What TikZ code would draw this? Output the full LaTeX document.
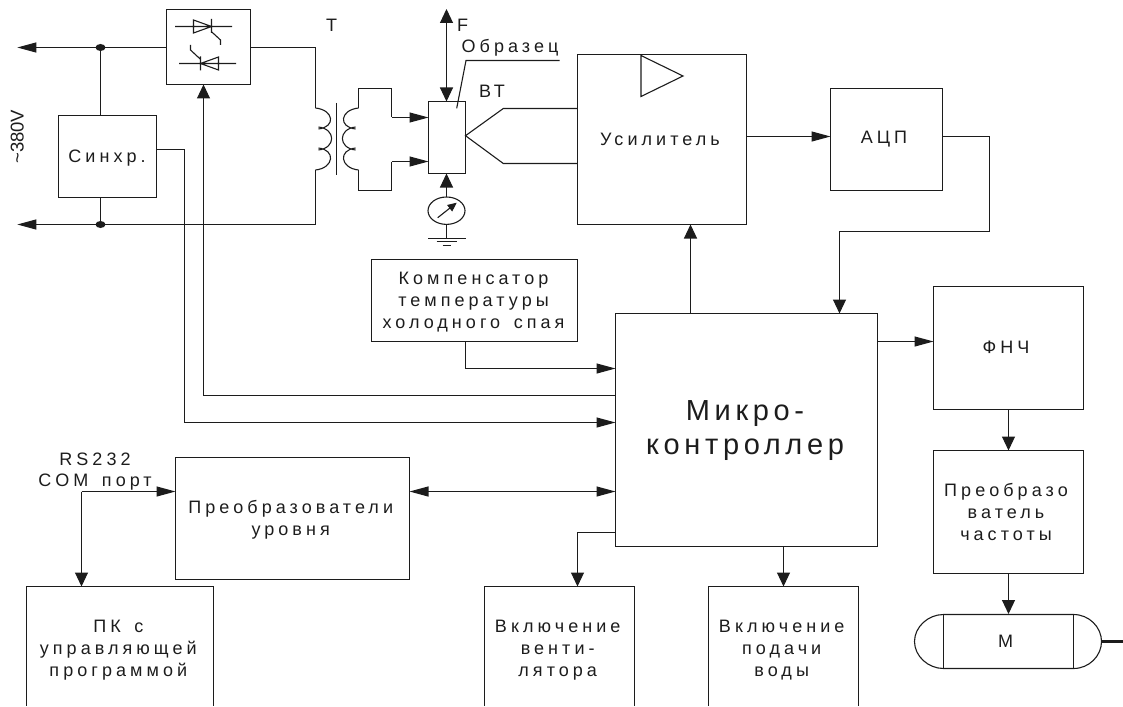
\documentclass[tikz,border=0pt]{standalone}
\usepackage{fontspec}
\setmainfont{Liberation Sans}
\newfontfamily\lblfont[LetterSpace=22.5,WordSpace=1.5]{Liberation Sans}
\newfontfamily\bigfont[LetterSpace=16]{Liberation Sans}
\usetikzlibrary{arrows.meta,shapes.geometric}
\definecolor{ink}{HTML}{1C1C1C}
\tikzset{
  wire/.style={draw=ink,line width=1.1pt,line join=miter},
  hto/.style={wire,-{Triangle[length=19pt,width=10pt]}},
  hfrom/.style={wire,{Triangle[length=19pt,width=10pt]}-},
  hboth/.style={wire,{Triangle[length=19pt,width=10pt]}-{Triangle[length=19pt,width=10pt]}},
  vto/.style={wire,-{Triangle[length=14pt,width=13pt]}},
  vboth/.style={wire,{Triangle[length=14pt,width=13pt]}-{Triangle[length=14pt,width=13pt]}},
  blockbox/.style={draw=ink,line width=1.1pt,rectangle,inner sep=0pt,outer sep=0pt},
  lbl/.style={text=ink,inner sep=0pt,align=center,font=\lblfont\fontsize{18}{21.7}\selectfont},
  biglbl/.style={text=ink,inner sep=0pt,align=center,font=\bigfont\fontsize{29}{34}\selectfont},
  plain/.style={text=ink,inner sep=0pt,font=\fontsize{18}{20}\selectfont},
  junction/.style={fill=ink,draw=none,ellipse,minimum width=10pt,minimum height=7pt,inner sep=0pt},
  symb/.style={draw=ink,line width=1.1pt,line join=miter}
}
\newcommand\blk[5]{\node[blockbox,minimum width={(#4-#2)*1pt},minimum height={(#5-#3)*1pt}] (#1) at ({(#2+#4)/2},{(#3+#5)/2}) {};}
\begin{document}
\begin{tikzpicture}[x=1pt,y=-1pt]
\useasboundingbox (0,0) rectangle (1123,706);
% blocks
\blk{thy}{166.5}{9.5}{250.5}{84.5}
\blk{syn}{58.5}{115.5}{156.5}{197.5}
\blk{smp}{428.5}{101.5}{465.5}{173.5}
\blk{amp}{577.5}{54.5}{746.5}{224.5}
\blk{adc}{830.5}{88.5}{942.5}{190.5}
\blk{cmp}{371.5}{259.5}{577.5}{341.5}
\blk{mcu}{615.5}{313.5}{877.5}{546.5}
\blk{lpf}{933.5}{286.5}{1083.5}{409.5}
\blk{frq}{933.5}{450.5}{1083.5}{573.5}
\blk{lvl}{175.5}{457.5}{409.5}{579.5}
\begin{scope}
\clip (0,0) rectangle (1123,705.2);
\blk{pc}{26.5}{586.5}{213.5}{715}
\blk{fan}{484.5}{586.5}{634.5}{715}
\blk{wat}{708.5}{586.5}{858.5}{715}
\end{scope}
% motor
\node[inner sep=0pt,outer sep=0pt,minimum width=187pt,minimum height=54pt] (mot) at (1008,641.5) {};
\draw[symb] (943.5,614.5) -- (1073.5,614.5) .. controls (1089,614.5) and (1101.5,627) .. (1101.5,641.5) .. controls (1101.5,656) and (1089,668.5) .. (1073.5,668.5) -- (943.5,668.5) .. controls (928,668.5) and (914.5,656) .. (914.5,641.5) .. controls (914.5,627) and (928,614.5) .. (943.5,614.5) -- cycle;
\draw[symb] (1073.5,614.5) -- (1073.5,668.5) (943.5,614.5) -- (943.5,668.5);
\draw[draw=ink,line width=3pt] (mot.east) -- (1123,641.5);
% labels
\node[lbl] at (107,158) {Синхр.};
\node[lbl] at (660,139) {Усилитель};
\node[lbl] at (884,139) {АЦП};
\node[lbl] at (473.5,302) {Компенсатор\\температуры\\холодного спая};
\node[biglbl] at (745,431) {Микро-\\контроллер};
\node[lbl] at (1006,347.7) {ФНЧ};
\node[lbl] at (1006,512) {Преобразо\\ватель\\частоты};
\node[lbl] at (290.7,519.5) {Преобразователи\\уровня};
\node[lbl,font=\lblfont\fontsize{18}{21}\selectfont] at (95,472) {RS232\\COM порт};
\node[lbl] at (118.3,650) {ПК с\\управляющей\\программой};
\node[lbl] at (557.7,650) {Включение\\венти-\\лятора};
\node[lbl] at (781.7,650) {Включение\\подачи\\воды};
\node[plain] at (1005.7,641) {М};
\node[plain] at (331.7,25) {Т};
\node[plain] at (462.7,25) {F};
\node[lbl] at (510,48) {Образец};
\node[lbl] at (492,91) {ВТ};
\node[plain,rotate=90,font=\fontsize{18.5}{20}\selectfont] at (17.3,136.7) {\char"007E 380V};
% mains
\node[junction] (j1) at (100.5,47.5) {};
\node[junction] (j2) at (100.5,224.5) {};
\coordinate (lt) at (17.3,47.5);
\coordinate (lb) at (17.3,224.5);
\draw[hfrom] (lt) -- (thy.west |- lt);
\draw[hfrom] (lb) -- (315.5,224.5) -- (315.5,170);
\draw[wire] (j1) -- (j1 |- syn.north);
\draw[wire] (j2) -- (j2 |- syn.south);
\draw[wire] (thy.east |- lt) -- (315.5,47.5) -- (315.5,108);
% transformer
\draw[symb] (315.5,108) .. controls (334,110) and (336,127) .. (318.5,129)
  (318.5,127) .. controls (336,129) and (336,148) .. (318.5,150)
  (318.5,148) .. controls (336,150) and (334,168) .. (315.5,170);
\draw[symb] (336.5,103) -- (336.5,175);
\draw[symb] (358.5,108) .. controls (340,110) and (338,127) .. (355.5,129)
  (355.5,127) .. controls (338,129) and (338,148) .. (355.5,150)
  (355.5,148) .. controls (338,150) and (340,168) .. (358.5,170);
\coordinate (s1) at (391.5,117.5);
\coordinate (s2) at (391.5,161.5);
\draw[wire] (358.5,108) -- (358.5,88.5) -- (391.5,88.5) -- (s1);
\draw[wire] (358.5,170) -- (358.5,190.5) -- (391.5,190.5) -- (s2);
\draw[hto] (s1) -- (smp.west |- s1);
\draw[hto] (s2) -- (smp.west |- s2);
% force and sample leader
\coordinate (ftop) at (446.5,9);
\draw[vboth] (ftop) -- (smp.north -| ftop);
\draw[wire] (559.5,60.5) -- (466,60.5) -- (456.7,108.3);
% thermocouple
\coordinate (tc) at (465.5,135.7);
\draw[wire] (amp.west |- 0,108.5) -- (503.3,108.5) -- (tc) -- (503.3,163.5) -- (amp.west |- 0,163.5);
% meter
\node[draw=ink,line width=1.1pt,ellipse,inner sep=0pt,outer sep=0pt,minimum width=37pt,minimum height=27.4pt] (mtr) at (446.5,210.7) {};
\draw[vto] (mtr.north) -- (mtr.north |- smp.south);
\draw[wire,-{Triangle[length=9pt,width=8pt]}] (437.7,217.7) -- (456.7,202.7);
\coordinate (gnd) at (446.5,238);
\draw[wire] (mtr.south) -- (gnd);
\draw[symb] (428,238.5) -- (466,238.5) (436.7,241.5) -- (456.5,241.5) (442.7,245.5) -- (451,245.5);
% thyristors
\draw[symb] (175,26.5) -- (232,26.5) (193.5,20) -- (193.5,33) -- (211.5,26.5) -- cycle (211.5,19) -- (211.5,33) (211.5,31.7) -- (220.5,40) -- (220.5,45);
\draw[symb] (179,63.5) -- (236,63.5) (218.5,57) -- (218.5,70) -- (200.5,63.5) -- cycle (200.5,56.5) -- (200.5,70.5) (190.5,45) -- (190.5,50) -- (200.5,59.3);
% amplifier triangle
\draw[symb] (641,55.5) -- (683,76) -- (641,96.5) -- cycle;
% connectors
\draw[hto] (amp.east |- 0,136.5) -- (adc.west |- 0,136.5);
\draw[vto] (adc.east |- 0,136.5) -- (989.5,136.5) -- (989.5,231.5) -- (839.5,231.5) -- (839.5,231.5 |- mcu.north);
\draw[vto] (690.5,313.5 |- mcu.north) -- (690.5,224.3 |- amp.south);
\draw[hto] (cmp.south -| 465.5,0) -- (465.5,368.5) -- (mcu.west |- 0,368.5);
\draw[vto] (mcu.west |- 0,395.5) -- (203.5,395.5) -- (203.5,84.7 |- thy.south);
\draw[hto] (syn.east |- 0,149.5) -- (184.5,149.5) -- (184.5,422.5) -- (mcu.west |- 0,422.5);
\draw[hboth] (lvl.east |- 0,491.5) -- (mcu.west |- 0,491.5);
\coordinate (rs) at (81.5,491.5);
\draw[hto] (rs) -- (lvl.west |- rs);
\draw[vto] (rs) -- (pc.north -| rs);
\draw[hto] (mcu.east |- 0,341.5) -- (lpf.west |- 0,341.5);
\draw[vto] (lpf.south -| 1008.5,0) -- (frq.north -| 1008.5,0);
\draw[vto] (frq.south -| 1008.5,0) -- (1008.5,614);
\draw[vto] (mcu.west |- 0,532.5) -- (577.5,532.5) -- (fan.north -| 577.5,0);
\draw[vto] (mcu.south -| 783.5,0) -- (wat.north -| 783.5,0);
\end{tikzpicture}
\end{document}
